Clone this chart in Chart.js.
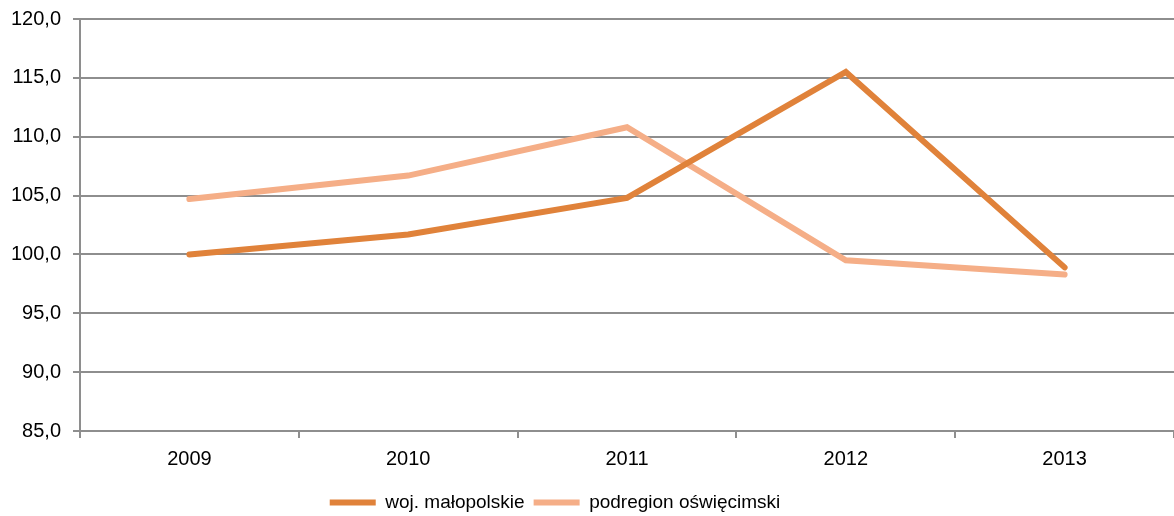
<!DOCTYPE html>
<html>
<head>
<meta charset="utf-8">
<script src="https://cdn.jsdelivr.net/npm/chart.js@4/dist/chart.umd.min.js"></script>
<style>
  html, body { margin: 0; padding: 0; background: #fff; }
  #wrap { width: 1174px; height: 516px; }
</style>
</head>
<body>
<div id="wrap"><canvas id="chart"></canvas></div>
<script>
// dane z wykresu
const years = ['2009', '2010', '2011', '2012', '2013'];
const malopolskie = [100.0, 101.7, 104.8, 115.5, 98.9];
const oswiecimski = [104.7, 106.7, 110.8, 99.5, 98.3];
const seriesNames = ['woj. małopolskie', 'podregion oświęcimski'];

const FONT = '"Liberation Sans", Arial, sans-serif';
const GRID = '#8e8e8e';

Chart.defaults.font.family = FONT;
Chart.defaults.color = '#000';

// legenda lekko w lewo i w dół, jak w oryginale
const legendShift = {
  id: 'legendShift',
  afterLayout(chart) {
    const lg = chart.legend;
    if (!lg) return;
    lg.right -= 64;
    lg.top += 6;
    lg.bottom += 6;
  }
};

new Chart(document.getElementById('chart'), {
  type: 'line',
  data: {
    labels: years,
    datasets: [
      {
        label: seriesNames[0],
        data: malopolskie,
        borderColor: '#e0823a',
        backgroundColor: '#e0823a',
        borderWidth: 6,
        borderCapStyle: 'round',
        pointRadius: 0,
        tension: 0,
        pointStyle: 'line'
      },
      {
        label: seriesNames[1],
        data: oswiecimski,
        borderColor: '#f5ae87',
        backgroundColor: '#f5ae87',
        borderWidth: 6,
        borderCapStyle: 'round',
        pointRadius: 0,
        tension: 0,
        pointStyle: 'line'
      }
    ]
  },
  options: {
    responsive: true,
    maintainAspectRatio: false,
    animation: false,
    layout: { padding: { top: 19, right: 0, left: 0, bottom: 0 } },
    scales: {
      x: {
        offset: true,
        afterFit: (scale) => { scale.height = 47; },
        grid: {
          offset: true,
          drawOnChartArea: false,
          drawTicks: true,
          tickLength: 7,
          color: GRID,
          lineWidth: 2
        },
        border: { color: GRID, width: 2 },
        ticks: { font: { size: 20 }, padding: 9, maxRotation: 0 }
      },
      y: {
        min: 85,
        max: 120,
        afterFit: (scale) => { scale.width = 80; scale.paddingTop = 0; },
        grid: { color: GRID, lineWidth: 2, tickLength: 7 },
        border: { color: GRID, width: 2 },
        ticks: {
          stepSize: 5,
          font: { size: 20 },
          padding: 12,
          callback: (v) => v.toFixed(1).replace('.', ',')
        }
      }
    },
    plugins: {
      legend: {
        position: 'bottom',
        labels: {
          usePointStyle: true,
          pointStyleWidth: 46,
          boxHeight: 6,
          padding: 9,
          font: { size: 19 },
          color: '#000'
        }
      },
      tooltip: { enabled: false }
    }
  },
  plugins: [legendShift]
});
</script>
</body>
</html>
